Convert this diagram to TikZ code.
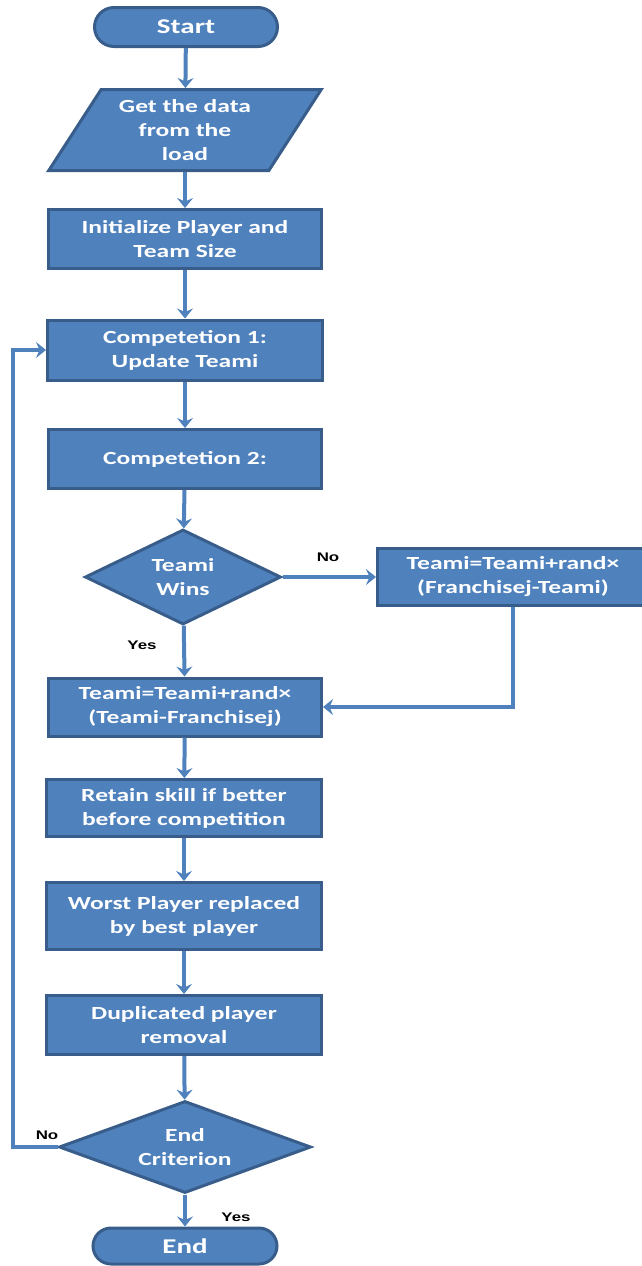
\documentclass[tikz,border=0pt]{standalone}
\usepackage{fontspec}
\usetikzlibrary{shapes.geometric,shapes.misc,arrows.meta}
\newfontfamily\boxfont[FakeStretch=1.38]{Carlito}
\newfontfamily\lblfont[FakeStretch=1.35]{Liberation Sans}
\definecolor{boxfill}{HTML}{4F81BD}
\definecolor{boxline}{HTML}{385D8A}
\definecolor{conn}{HTML}{4F81BD}
\begin{document}
\begin{tikzpicture}[x=1pt,y=-1pt,
  shapebase/.style={fill=boxfill,draw=boxline,line width=3pt,text=white,
    font=\boxfont\bfseries\fontsize{18.5}{24}\selectfont,align=center,inner sep=0pt},
  procbox/.style={shapebase,rectangle,minimum width=#1,minimum height=59},
  procbox/.default=273,
  termbox/.style={shapebase,rounded rectangle,minimum width=183,
    font=\boxfont\bfseries\fontsize{21}{24}\selectfont},
  iobox/.style={shapebase,trapezium,trapezium left angle=56,trapezium right angle=124,
    trapezium stretches=true,minimum width=273,minimum height=81},
  decbox/.style={shapebase,diamond},
  conline/.style={draw=conn,line width=4pt,-{Stealth[length=10pt,width=16pt,inset=3.5pt]}},
  lbl/.style={font=\lblfont\bfseries\fontsize{12.5}{14}\selectfont,text=black,inner sep=0pt}
]
\useasboundingbox (0,0) rectangle (641,1266);
\node[termbox,minimum height=39] (start) at (186,27) {Start};
\node[iobox] (io) at (185,130) {Get the data\\from the\\load};
\node[procbox] (init) at (185,239) {Initialize Player and\\Team Size};
\node[procbox=275,minimum height=60] (c1) at (185,350) {Competetion 1:\\Update Teami};
\node[procbox] (c2) at (185,459) {Competetion 2:};
\node[decbox,aspect=2,minimum width=196,minimum height=95] (tw) at (183,577) {Teami\\Wins};
\node[procbox=271,minimum height=57] (rb) at (513,577) {Teami=Teami+rand×\\(Franchisej-Teami)};
\node[procbox,minimum height=58] (upd) at (185,707) {Teami=Teami+rand×\\(Teami-Franchisej)};
\node[procbox=275,minimum height=57] (ret) at (184,808) {Retain skill if better\\before competition};
\node[procbox=275,minimum height=67] (worst) at (184,916) {Worst Player replaced\\by best player};
\node[procbox=275,minimum height=59] (dup) at (184,1025) {Duplicated player\\removal};
\node[decbox,aspect=2.7,minimum width=252,minimum height=92] (ec) at (185,1147) {End\\Criterion};
\node[termbox,minimum height=36,minimum width=184] (end) at (185,1246) {End};
\coordinate (loopx) at (13,1147);
\draw[conline] (start) -- (io);
\draw[conline] (io) -- (init);
\draw[conline] (init) -- (c1);
\draw[conline] (c1) -- (c2);
\draw[conline] (c2) -- (tw);
\draw[conline] (tw) -- (rb);
\draw[conline] (tw) -- (upd);
\draw[conline] (rb.south) |- (upd.east);
\draw[conline] (upd) -- (ret);
\draw[conline] (ret) -- (worst);
\draw[conline] (worst) -- (dup);
\draw[conline] (dup) -- (ec);
\draw[conline] (ec) -- (end);
\draw[conline] (ec.west) -- (loopx) |- (c1.west);
\node[lbl] (lno1) at (328,557) {No};
\node[lbl] (lyes1) at (142,645) {Yes};
\node[lbl] (lno2) at (47,1135) {No};
\node[lbl] (lyes2) at (236,1217) {Yes};
\end{tikzpicture}
\end{document}
